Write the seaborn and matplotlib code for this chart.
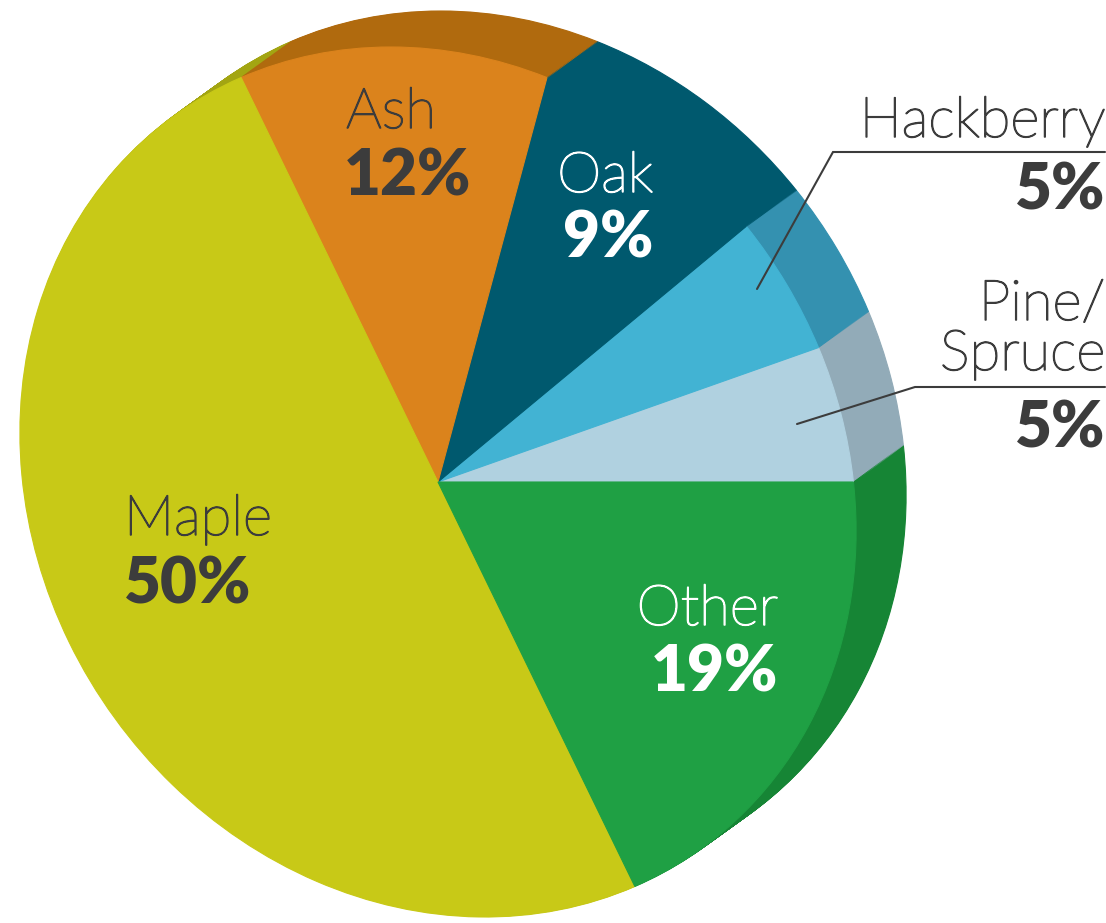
import matplotlib
matplotlib.use("Agg")
import matplotlib.pyplot as plt
import matplotlib.patheffects as pe
import numpy as np
import seaborn as sns
from matplotlib.transforms import Affine2D

# wedges listed counter-clockwise starting from 3 o'clock
species = ["Pine/Spruce", "Hackberry", "Oak", "Ash", "Maple", "Other"]
shares = [5, 5, 9, 12, 50, 19]
pct_labels = ["5%", "5%", "9%", "12%", "50%", "19%"]
face_colors = ["#B0D1E0", "#42B3D3", "#00596E", "#DB831C", "#C8C917", "#1FA044"]
side_colors = ["#92ABB8", "#3491B0", "#00596E", "#B06A0E", "#A3A512", "#168535"]

W, H = 1106, 923
CX, CY = 438, H - 482
R = 435
X_SCALE = 0.955   # pie is a touch narrower than tall
SKEW_DEG = -6.2   # slant that fakes the perspective of the drawing
DEPTH = np.array([50, 36])
DARK = "#3C3C3C"

sns.set_theme(style="white")
plt.rcParams["font.family"] = ["Lato", "DejaVu Sans"]

fig = plt.figure(figsize=(W / 100, H / 100), dpi=100)
ax = fig.add_axes([0, 0, 1, 1])


def draw_disc(center, colors):
    wedges, _ = ax.pie(shares, colors=colors, startangle=0, counterclock=True,
                       radius=R, center=center)
    slant = (Affine2D().translate(-center[0], -center[1])
             .scale(X_SCALE, 1).skew_deg(SKEW_DEG, 0)
             .translate(center[0], center[1]))
    for w, c in zip(wedges, colors):
        w.set_transform(slant + ax.transData)
        w.set_edgecolor(c)
        w.set_linewidth(0.8)


# extruded side: stack darker discs from the back towards the front face
for t in np.linspace(1, 0, 50)[:-1]:
    draw_disc((CX + DEPTH[0] * t, CY + DEPTH[1] * t), side_colors)
draw_disc((CX, CY), face_colors)

ax.set_xlim(0, W)
ax.set_ylim(0, H)
ax.set_aspect("equal")
ax.axis("off")


def label(x, y, s, ha, color, bold=False):
    if bold:
        ax.text(x, H - y, s, ha=ha, va="baseline", color=color,
                fontsize=46, fontweight="heavy")
    else:
        # Lato Light thickened a little to get the reference's stroke weight
        ax.text(x, H - y, s, ha=ha, va="baseline", color=color,
                fontsize=40.5, fontweight="light",
                path_effects=[pe.withStroke(linewidth=1.1, foreground=color)])


# in-slice labels (x, baseline y measured from the top)
label(346, 128, "Ash", "left", DARK)
label(344, 196, pct_labels[3], "left", DARK, bold=True)
label(653, 192, "Oak", "right", "white")
label(653, 258, pct_labels[2], "right", "white", bold=True)
label(124, 535, "Maple", "left", DARK)
label(124, 603, pct_labels[4], "left", DARK, bold=True)
label(778, 625, "Other", "right", "white")
label(778, 692, pct_labels[5], "right", "white", bold=True)

# outside labels with leader lines
label(1105, 137, "Hackberry", "right", DARK)
label(1105, 210, pct_labels[1], "right", DARK, bold=True)
ax.plot([757, 833, 1105], [H - 289, H - 152, H - 152], color=DARK, lw=1.5,
        solid_joinstyle="miter")

label(1105, 320, "Pine/", "right", DARK)
label(1105, 370, "Spruce", "right", DARK)
label(1105, 447, pct_labels[0], "right", DARK, bold=True)
ax.plot([797, 915, 1105], [H - 424, H - 387, H - 387], color=DARK, lw=1.5,
        solid_joinstyle="miter")

fig.savefig("out.png", dpi=100, facecolor="white")
